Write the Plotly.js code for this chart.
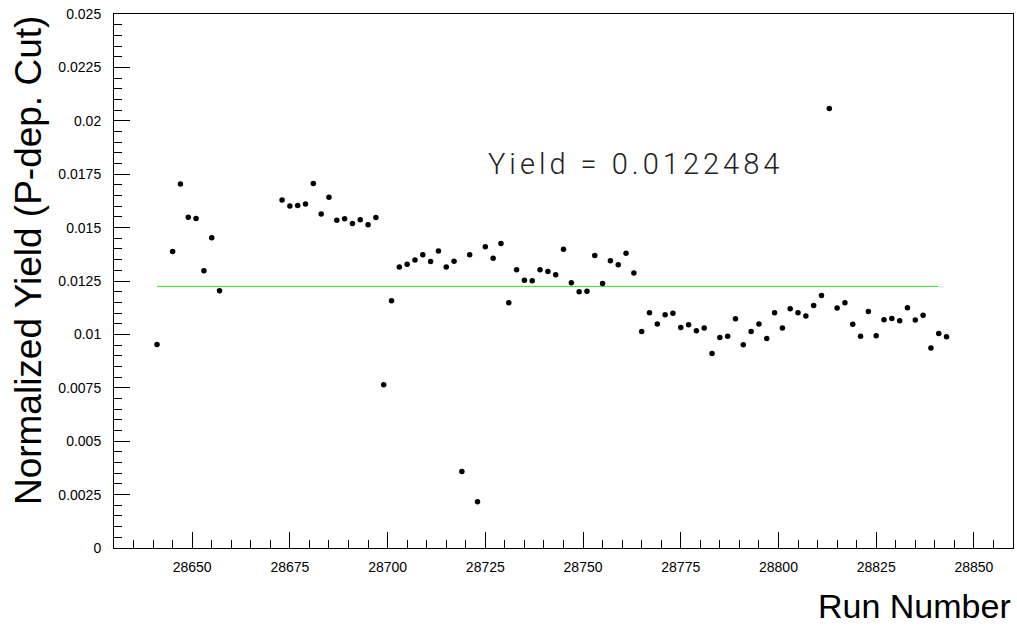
<!DOCTYPE html>
<html>
<head>
<meta charset="utf-8">
<script src="https://cdn.plot.ly/plotly-3.0.1.min.js"></script>
<style>
  html, body { margin: 0; padding: 0; background: #fff; }
  #chart { width: 1017px; height: 626px; }
  .yield-label .annotation-text { letter-spacing: 4px; }
</style>
</head>
<body>
<div id="chart"></div>
<script>
// Run numbers (x) and normalized yields (y)
const runNumbers = [
  28641, 28645, 28647, 28649, 28651, 28653, 28655, 28657,
  28673, 28675, 28677, 28679, 28681, 28683, 28685, 28687, 28689, 28691, 28693, 28695, 28697, 28699,
  28701, 28703, 28705, 28707, 28709, 28711, 28713, 28715, 28717, 28719, 28721, 28723, 28725, 28727, 28729,
  28731, 28733, 28735, 28737, 28739, 28741, 28743, 28745, 28747, 28749, 28751, 28753, 28755, 28757, 28759,
  28761, 28763, 28765, 28767, 28769, 28771, 28773, 28775, 28777, 28779, 28781, 28783, 28785, 28787, 28789,
  28791, 28793, 28795, 28797, 28799, 28801, 28803, 28805, 28807, 28809, 28811, 28813, 28815, 28817, 28819,
  28821, 28823, 28825, 28827, 28829, 28831, 28833, 28835, 28837, 28839, 28841, 28843
];
const yields = [
  0.00953, 0.01388, 0.01704, 0.01549, 0.01543, 0.01298, 0.01453, 0.01204,
  0.01629, 0.01601, 0.01603, 0.01610, 0.01706, 0.01564, 0.01642, 0.01534, 0.01541, 0.01519, 0.01537, 0.01513, 0.01547, 0.00764,
  0.01157, 0.01315, 0.01328, 0.01348, 0.01373, 0.01341, 0.01391, 0.01315, 0.01343, 0.00358, 0.01373, 0.00217, 0.01410, 0.01356, 0.01425,
  0.01148, 0.01303, 0.01253, 0.01251, 0.01303, 0.01294, 0.01279, 0.01399, 0.01242, 0.01200, 0.01202, 0.01369, 0.01238, 0.01345, 0.01326,
  0.01380, 0.01288, 0.01013, 0.01101, 0.01049, 0.01092, 0.01099, 0.01032, 0.01045, 0.01017, 0.01030, 0.00910, 0.00985, 0.00991, 0.01073,
  0.00951, 0.01013, 0.01049, 0.00981, 0.01101, 0.01030, 0.01120, 0.01101, 0.01086, 0.01135, 0.01182, 0.02058, 0.01124, 0.01148, 0.01047,
  0.00991, 0.01107, 0.00994, 0.01069, 0.01075, 0.01064, 0.01125, 0.01067, 0.01090, 0.00936, 0.01004, 0.00989
];

// Mean yield line
const meanYield = 0.0122484;
const fitRange = [28641, 28841];
const fitValues = [meanYield, meanYield];

// Axis ticks
const yTickVals = [0, 0.0025, 0.005, 0.0075, 0.01, 0.0125, 0.015, 0.0175, 0.02, 0.0225, 0.025];
const yTickLabels = ["0", "0.0025", "0.005", "0.0075", "0.01", "0.0125", "0.015", "0.0175", "0.02", "0.0225", "0.025"];
const xTickVals = [28650, 28675, 28700, 28725, 28750, 28775, 28800, 28825, 28850];
const xTickLabels = ["28650", "28675", "28700", "28725", "28750", "28775", "28800", "28825", "28850"];

const xTitle = "Run Number";
const yTitle = "Normalized Yield (P-dep. Cut)";
const yieldLabel = "Yield = " + meanYield;

const traces = [
  {
    x: fitRange, y: fitValues, type: 'scatter', mode: 'lines',
    line: { color: '#2ee02e', width: 1 }, hoverinfo: 'skip', showlegend: false
  },
  {
    x: runNumbers, y: yields, type: 'scatter', mode: 'markers',
    marker: { color: '#000', size: 5.5 }, showlegend: false
  }
];

const tickFont = { family: 'Liberation Sans, Arial, sans-serif', size: 14, color: '#000' };

const layout = {
  width: 1017, height: 626,
  paper_bgcolor: '#fff', plot_bgcolor: '#fff',
  margin: { l: 114, r: 4, t: 14, b: 78, pad: 0 },
  showlegend: false,
  xaxis: {
    range: [28630, 28860], autorange: false,
    tickmode: 'array', tickvals: xTickVals, ticktext: xTickLabels,
    ticks: 'inside', ticklen: 16, tickwidth: 1, tickcolor: '#000',
    minor: { tickmode: 'linear', tick0: 28650, dtick: 5, ticks: 'inside', ticklen: 8, tickwidth: 1, tickcolor: '#000', showgrid: false },
    showline: true, linecolor: '#000', linewidth: 1, mirror: true,
    showgrid: false, zeroline: false,
    tickfont: tickFont, ticklabelstandoff: 6, automargin: false
  },
  yaxis: {
    range: [0, 0.025], autorange: false,
    tickmode: 'array', tickvals: yTickVals, ticktext: yTickLabels,
    ticks: 'inside', ticklen: 16, tickwidth: 1, tickcolor: '#000',
    minor: { tickmode: 'linear', tick0: 0, dtick: 0.0005, ticks: 'inside', ticklen: 8, tickwidth: 1, tickcolor: '#000', showgrid: false },
    showline: true, linecolor: '#000', linewidth: 1, mirror: true,
    showgrid: false, zeroline: false,
    tickfont: tickFont, ticklabelstandoff: 9, automargin: false
  },
  annotations: [
    {
      name: 'yield', text: yieldLabel, xref: 'paper', yref: 'paper', x: 0.452, y: 0.719,
      xanchor: 'left', yanchor: 'middle', showarrow: false,
      font: { family: 'Roboto, Lato, Open Sans, sans-serif', size: 29, color: '#222', weight: 300 }
    },
    {
      text: xTitle, xref: 'paper', yref: 'paper', x: 1.0, y: -0.07,
      xanchor: 'right', yanchor: 'top', showarrow: false,
      font: { family: 'Liberation Sans, Arial, sans-serif', size: 34, color: '#000' }
    },
    {
      text: yTitle, xref: 'paper', yref: 'paper', x: -0.095, y: 1.0,
      xanchor: 'center', yanchor: 'top', textangle: -90, showarrow: false,
      font: { family: 'Liberation Sans, Arial, sans-serif', size: 37, color: '#000' }
    }
  ]
};

Plotly.newPlot('chart', traces, layout, { displayModeBar: false, staticPlot: true }).then(function () {
  const first = document.querySelector('.annotation');
  if (first) first.classList.add('yield-label');
});
</script>
</body>
</html>
